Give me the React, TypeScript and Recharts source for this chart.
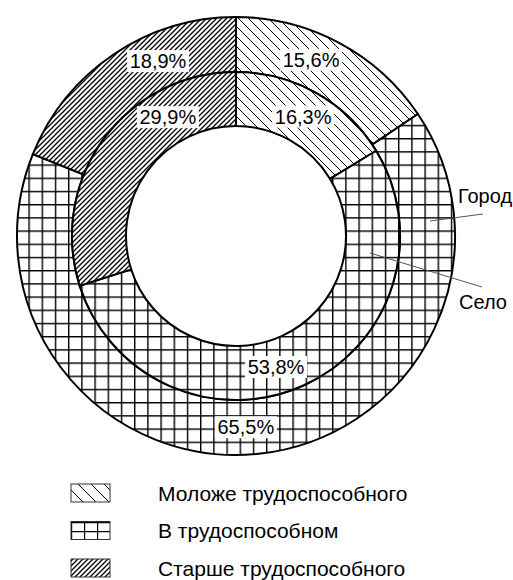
import React from 'react';
import { PieChart, Pie, Cell, Legend } from 'recharts';

// age groups, share of population (%)
const groups = ['Моложе трудоспособного', 'В трудоспособном', 'Старше трудоспособного'];
const cityValues = [15.6, 65.5, 18.9];
const villageValues = [16.3, 53.8, 29.9];
const ringNames = ['Город', 'Село'];

const patternIds = ['hatch-young', 'grid-work', 'hatch-old'];
const legendPatternIds = ['hatch-young-lg', 'grid-work-lg', 'hatch-old'];
// label nudges along the ring (degrees, clockwise)
const cityLabelShift = [-5, 3, 10];
const villageLabelShift = [0, 7.5, 24];

const FONT = '"Liberation Sans", Arial, sans-serif';
const RAD = Math.PI / 180;

const cityData = groups.map((g, i) => ({ name: g, value: cityValues[i] }));
const villageData = groups.map((g, i) => ({ name: g, value: villageValues[i] }));

const fmt = (v: number) => v.toFixed(1).replace('.', ',') + '%';

const makeLabel = (shifts: number[]) => (props: any) => {
  const { cx, cy, midAngle, innerRadius, outerRadius, value, index } = props;
  const a = (midAngle - shifts[index]) * RAD;
  const r = (innerRadius + outerRadius) / 2;
  const x = cx + r * Math.cos(a);
  const y = cy - r * Math.sin(a);
  return (
    <g>
      <rect x={x - 31} y={y - 11} width={62} height={22} fill="#fff" />
      <text x={x} y={y} dy="0.36em" textAnchor="middle" fontSize={20} fontFamily={FONT} fill="#000">
        {fmt(value)}
      </text>
    </g>
  );
};

const Patterns = () => (
  <svg width={0} height={0} style={{ position: 'absolute' }}>
    <defs>
      <pattern id="hatch-young" patternUnits="userSpaceOnUse" width={10} height={10}>
        <rect width={10} height={10} fill="#fff" />
        <path d="M0,0 L10,10 M-5,5 L5,15 M5,-5 L15,5" stroke="#000" strokeWidth={1} />
      </pattern>
      <pattern id="grid-work" patternUnits="userSpaceOnUse" width={13.2} height={13.2} x={2} y={6}>
        <rect width={13.2} height={13.2} fill="#fff" />
        <path d="M0.7,0 L0.7,13.2 M0,0.7 L13.2,0.7" stroke="#000" strokeWidth={1.4} />
      </pattern>
      <pattern id="hatch-old" patternUnits="userSpaceOnUse" width={5} height={5}>
        <rect width={5} height={5} fill="#fff" />
        <path d="M0,5 L5,0 M-1,1 L1,-1 M4,6 L6,4" stroke="#000" strokeWidth={1.3} />
      </pattern>
      <pattern id="hatch-young-lg" patternUnits="userSpaceOnUse" width={13} height={13} x={71}>
        <rect width={13} height={13} fill="#fff" />
        <path d="M0,0 L13,13 M-6.5,6.5 L6.5,19.5 M6.5,-6.5 L19.5,6.5" stroke="#000" strokeWidth={1} />
      </pattern>
      <pattern id="grid-work-lg" patternUnits="userSpaceOnUse" width={13} height={9} x={71} y={0}>
        <rect width={13} height={9} fill="#fff" />
        <path d="M0.6,0 L0.6,9 M0,0.6 L13,0.6" stroke="#000" strokeWidth={1.2} />
      </pattern>
    </defs>
  </svg>
);

const LegendBox = () => (
  <svg width={513} height={104}>
    {groups.map((g, i) => {
      const y = 16 + i * 37.5;
      return (
        <g key={g}>
          <rect x={71} y={y - 9} width={39} height={18} fill={`url(#${legendPatternIds[i]})`} stroke="#333" strokeWidth={1} />
          <text x={158} y={y} dy="0.36em" fontSize={21} fontFamily={FONT} fill="#000">{g}</text>
        </g>
      );
    })}
  </svg>
);

const App: React.FC = () => {
  return (
    <div style={{ position: 'absolute', left: 0, top: 0, width: 513, height: 580, background: '#fff', fontFamily: FONT }}>
      <Patterns />
      <PieChart width={513} height={580}>
        <Pie
          data={cityData}
          dataKey="value"
          cx={231}
          cy={231}
          innerRadius={164}
          outerRadius={219}
          startAngle={90}
          endAngle={-270}
          stroke="#000"
          strokeWidth={2}
          labelLine={false}
          label={makeLabel(cityLabelShift)}
          isAnimationActive={false}
        >
          {cityData.map((d, i) => <Cell key={d.name} fill={`url(#${patternIds[i]})`} />)}
        </Pie>
        <Pie
          data={villageData}
          dataKey="value"
          cx={231}
          cy={231}
          innerRadius={110}
          outerRadius={164}
          startAngle={90}
          endAngle={-270}
          stroke="#000"
          strokeWidth={2}
          labelLine={false}
          label={makeLabel(villageLabelShift)}
          isAnimationActive={false}
        >
          {villageData.map((d, i) => <Cell key={d.name} fill={`url(#${patternIds[i]})`} />)}
        </Pie>
        <Legend
          content={() => <LegendBox />}
          wrapperStyle={{ position: 'absolute', left: 0, top: 477, width: 513, height: 104 }}
        />
      </PieChart>
      {/* ring captions with leader lines */}
      <svg width={513} height={580} style={{ position: 'absolute', left: 0, top: 0, pointerEvents: 'none' }}>
        <line x1={430} y1={221} x2={483} y2={214} stroke="#555" strokeWidth={1} />
        <text x={458} y={203} fontSize={20} fontFamily={FONT} fill="#000">{ringNames[0]}</text>
        <line x1={370} y1={253} x2={482} y2={287} stroke="#555" strokeWidth={1} />
        <text x={459} y={309} fontSize={20} fontFamily={FONT} fill="#000">{ringNames[1]}</text>
      </svg>
    </div>
  );
};

export default App;
